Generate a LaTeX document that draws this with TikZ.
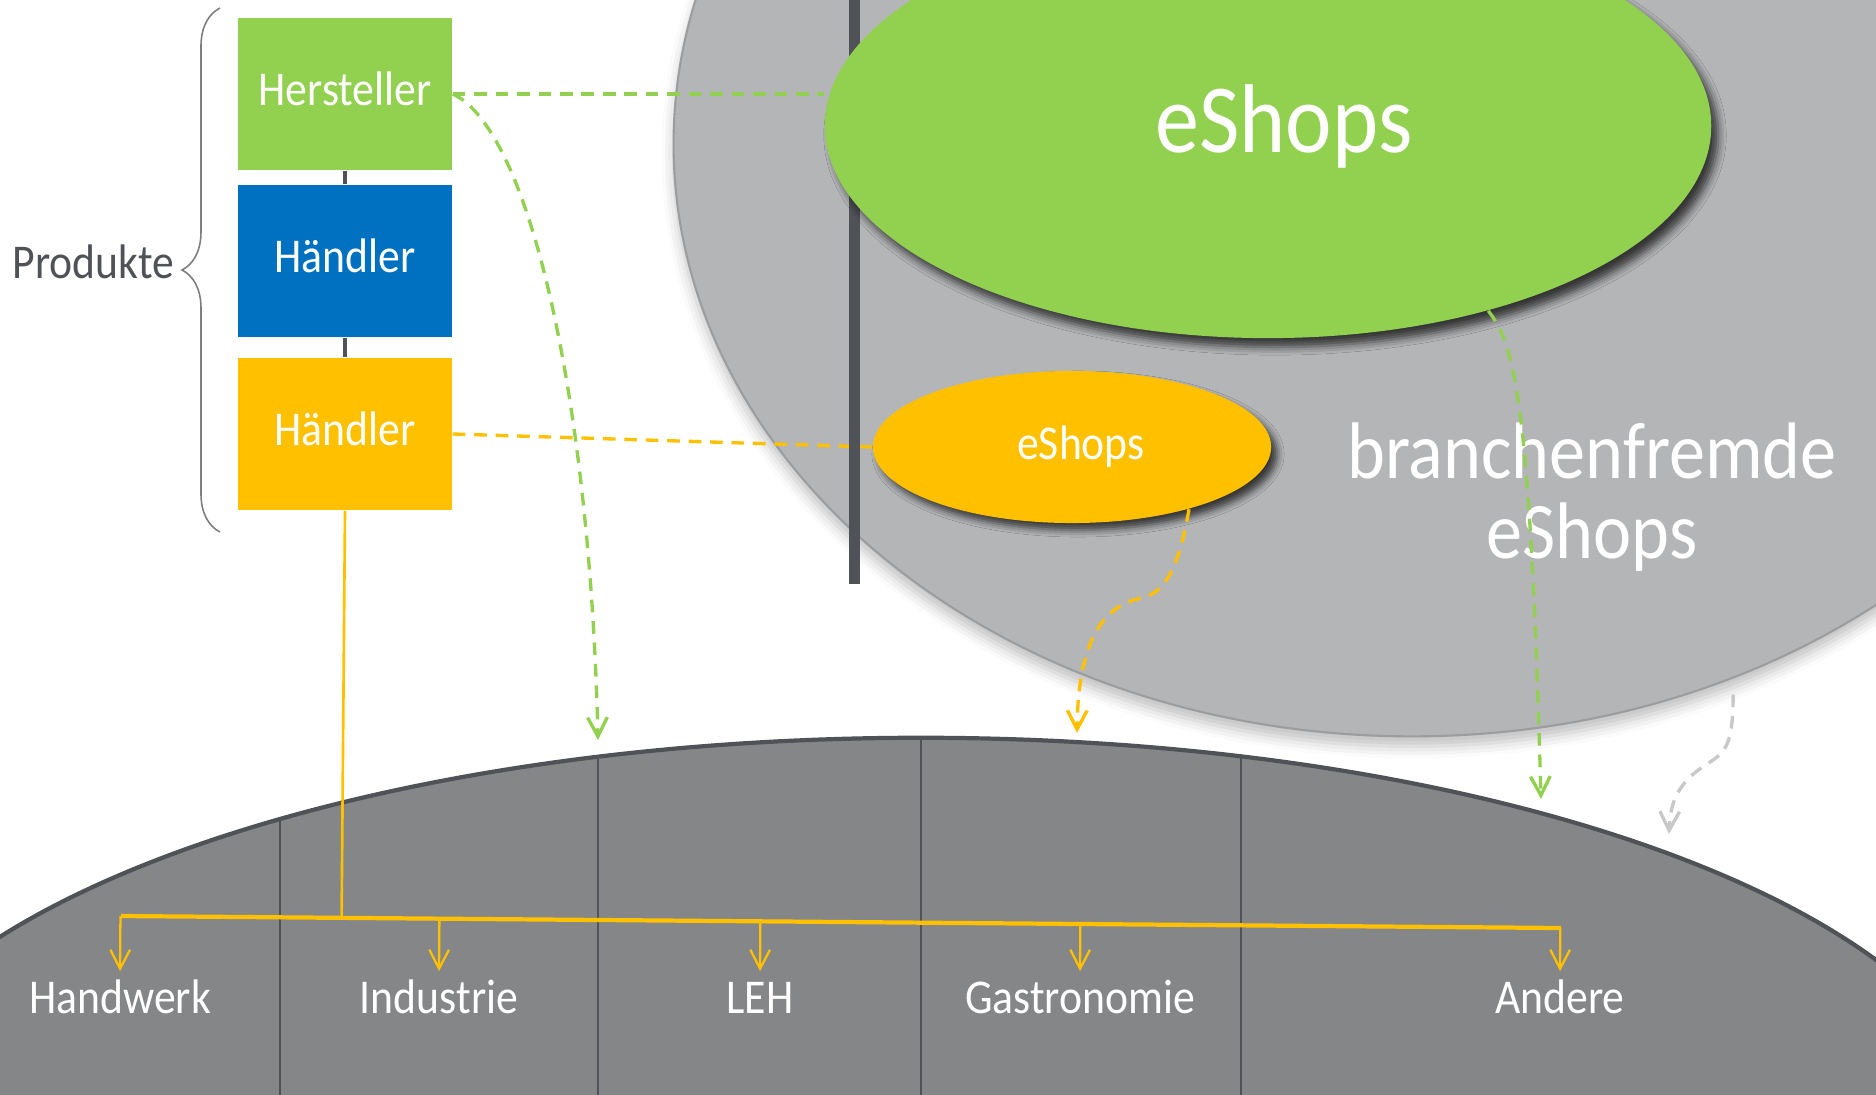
\documentclass[tikz,border=0pt]{standalone}
\usepackage{fontspec}
\setmainfont{Carlito}[FakeStretch=0.9]
\usepackage{xcolor}
\usepackage{tikz}
\usetikzlibrary{shadows,shadows.blur}
\usetikzlibrary{positioning}
\usetikzlibrary{arrows.meta,shapes}
\usetikzlibrary{calc}
\usetikzlibrary{decorations.pathreplacing}
\definecolor{gruen}{HTML}{92D050}
\definecolor{blau}{HTML}{0070C0}
\definecolor{gelb}{HTML}{FFC000}
\definecolor{hellgrau}{HTML}{B4B5B7}
\definecolor{randgrau}{HTML}{9C9D9F}
\definecolor{marktgrau}{HTML}{858688}
\definecolor{dunkelgrau}{HTML}{4F5256}
\definecolor{pfeilgrau}{HTML}{C8C8C8}
\tikzstyle{box}=[rectangle,minimum width=2.14cm,minimum height=1.52cm,inner sep=0pt,text=white,font=\fontsize{13.8}{15}\selectfont,text height=9.7pt,text depth=3.4pt]
\tikzstyle{oval}=[ellipse,inner sep=0pt,text=white]
\tikzstyle{link} = [draw,line width=0.9pt,dunkelgrau]
\tikzstyle{dashedge} = [draw,line width=0.95pt,dash pattern=on 3.6pt off 2.5pt]
\tikzstyle{tree} = [draw,line width=0.65pt,gelb]
\tikzstyle{divider} = [draw,line width=0.3pt,dunkelgrau]
\tikzstyle{lbl} = [text=white,font=\fontsize{13.8}{15}\selectfont,text height=9.7pt,text depth=3.4pt,inner sep=2pt]
\tikzset{nd/.style={rectangle,draw,align=center}}

\begin{document}
\begin{tikzpicture}[x=0.01cm, y=-0.01cm, >={Straight Barb[length=5.4pt,width=5.6pt]}]

 \useasboundingbox (0,0) rectangle (1876,1094);
 \clip (0,0) rectangle (1876,1094);

 %branchenfremde
 \node[oval, minimum width=14.76cm, minimum height=11.84cm, fill=hellgrau, draw=randgrau, line width=0.6pt,
       blur shadow={shadow xshift=0cm, shadow yshift=-0.1cm, shadow blur radius=0.12cm, shadow opacity=25}] (fremd) at (1412,144) {};
 \node[text=white, align=center, font=\fontsize{22.8}{22.8}\selectfont] (fremdtxt) at (1592,497) {branchenfremde\\eShops};

 %Markt
 \node[oval, minimum width=21.54cm, minimum height=8.28cm, fill=marktgrau, draw=dunkelgrau, line width=1.2pt] (markt) at (921,1152) {};
 \begin{scope}
  \clip (markt.center) ellipse [x radius=10.77cm, y radius=4.14cm];
  \foreach \x in {280,598,921,1241}
         \path[divider] (\x,700) -- (\x,1100);
 \end{scope}

 %Produkte
  \def\bx{345}
   \foreach \y/\name/\col/\label in {94/hst/gruen/Hersteller, 261/hb/blau/Händler, 434/hg/gelb/Händler}
          \node[box, fill=\col] (\name) at (\bx, \y) {\label};

  \foreach \source/ \dest in {hst/hb, hb/hg}
         \path[link] (\source) -- (\dest);

 \draw[randgrau!80!black, line width=0.45pt, decorate, decoration={brace, amplitude=0.38cm}] (220,532) -- (220,8);
 \node[text=dunkelgrau, anchor=base west, inner sep=0pt, font=\fontsize{13.8}{15}\selectfont] (prod) at (12,278) {Produkte};

 %eShops
 \node[oval, minimum width=3.98cm, minimum height=1.52cm, fill=gelb,
       label={[text=white, font=\fontsize{13.8}{15}\selectfont, xshift=0.09cm]center:eShops},
       blur shadow={shadow xshift=0.06cm, shadow yshift=-0.07cm, shadow blur radius=0.07cm, shadow opacity=70}] (oshop) at (1072,447) {};
 \path[dashedge, gelb] (hg.east) -- (oshop.west);

 \fill[dunkelgrau] (849,-5) rectangle (860,584);

 \node[oval, minimum width=8.86cm, minimum height=4.24cm, fill=gruen,
       label={[text=white, font=\fontsize{27.8}{30}\selectfont, xshift=0.16cm]center:eShops},
       blur shadow={shadow xshift=0.07cm, shadow yshift=-0.09cm, shadow blur radius=0.08cm, shadow opacity=70}] (gshop) at (1268,126) {};
 \path[dashedge, gruen] (hst.east) -- (hst.east -| gshop.west);

 %Wege
 \coordinate (e1) at (598,740);
 \coordinate (e2) at (1077,733);
 \coordinate (e3) at (1541,799);
 \coordinate (e4) at (1669,834);
 \coordinate (gs) at ([yshift=-0.16cm]fremd.-59);

 \draw[dashedge, gruen, ->] (hst.east) .. controls (530,130) and (590,400) .. (e1);
 \draw[dashedge, gelb, ->] (oshop.-28) .. controls (1180,560) and (1168,592) .. (1142,598)
        .. controls (1098,606) and (1078,650) .. (e2);
 \draw[dashedge, gruen, ->] (gshop.-40) .. controls (1515,345) and (1530,400) .. (e3);
 \draw[dashedge, pfeilgrau, ->] (gs) .. controls (1733,745) and (1726,752) .. (1707,764)
        .. controls (1680,781) and (1670,800) .. (e4);

 %Abnehmer
 \coordinate (b0) at (121,916);
 \coordinate (b5) at (1561,928);
 \path[tree, line width=1.2pt] (b0) -- (b5);
 \path[tree, line width=0.75pt] (hg.south) -- ($(b0)!(hg.south)!(b5)$);

   \foreach \x/\name/\label in {120/hw/Handwerk, 439/ind/Industrie, 760/leh/LEH, 1080/gas/Gastronomie, 1560/andr/Andere}
          \node[lbl, anchor=base] (\name) at (\x,1013) {\label};

  \foreach \name in {hw, ind, leh, gas, andr}
         \path[tree, ->] ($(b0)!(\name.north)!(b5)$) -- (\name.north);

\end{tikzpicture}
\end{document}
